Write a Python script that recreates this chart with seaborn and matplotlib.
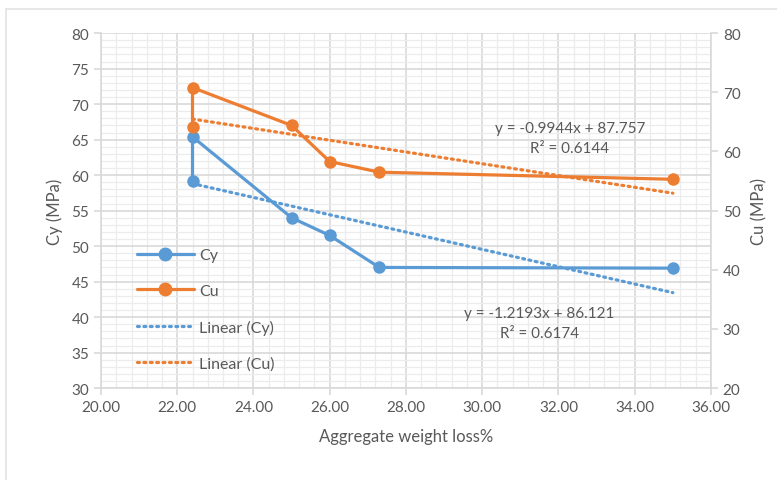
import numpy as np
import pandas as pd
import matplotlib
matplotlib.use("Agg")
import matplotlib.pyplot as plt
from matplotlib.lines import Line2D
from matplotlib.ticker import MultipleLocator, FormatStrFormatter
import seaborn as sns

# data
weight_loss = [22.4, 22.4, 25.0, 26.0, 27.3, 35.0]
cy = [59.2, 65.4, 54.0, 51.5, 47.0, 46.9]
cu = [64.2, 70.8, 64.4, 58.3, 56.5, 55.3]

# trendline coefficients as shown on the chart
cy_slope, cy_icpt, cy_r2 = -1.2193, 86.121, 0.6174
cu_slope, cu_icpt, cu_r2 = -0.9944, 87.757, 0.6144

BLUE = "#5B9BD5"
ORANGE = "#ED7D31"
TXT = "#595959"
GRID = "#D9D9D9"

sns.set_theme(style="white")
plt.rcParams["font.family"] = ["Lato", "DejaVu Sans"]

fig = plt.figure(figsize=(7.77, 4.81), dpi=100)
ax = fig.add_axes([0.13, 0.191, 0.785, 0.738])
ax2 = ax.twinx()

df = pd.DataFrame({"x": weight_loss, "cy": cy, "cu": cu})
x_fit = np.array([min(weight_loss), max(weight_loss)])
dots = (0, (0.6, 1.4))

# Cy on left axis
sns.lineplot(data=df, x="x", y="cy", sort=False, estimator=None, ax=ax,
             color=BLUE, marker="o", markersize=9, markeredgewidth=0,
             linewidth=2.3, zorder=4)
sns.lineplot(x=x_fit, y=cy_slope * x_fit + cy_icpt, ax=ax, color=BLUE,
             linewidth=2.3, linestyle=dots, dash_capstyle="round", zorder=3)

# Cu on right axis
sns.lineplot(data=df, x="x", y="cu", sort=False, estimator=None, ax=ax2,
             color=ORANGE, marker="o", markersize=9, markeredgewidth=0,
             linewidth=2.3, zorder=4)
sns.lineplot(x=x_fit, y=cu_slope * x_fit + cu_icpt, ax=ax2, color=ORANGE,
             linewidth=2.3, linestyle=dots, dash_capstyle="round", zorder=3)

ax.set_xlim(20, 36)
ax.set_ylim(30, 80)
ax2.set_ylim(20, 80)

ax.xaxis.set_major_locator(MultipleLocator(2))
ax.xaxis.set_minor_locator(MultipleLocator(0.4))
ax.xaxis.set_major_formatter(FormatStrFormatter("%.2f"))
ax.yaxis.set_major_locator(MultipleLocator(5))
ax.yaxis.set_minor_locator(MultipleLocator(1))
ax2.yaxis.set_major_locator(MultipleLocator(10))

ax.grid(which="major", color=GRID, linewidth=1.2)
ax.grid(which="minor", color="#ECECEC", linewidth=0.9)
ax.set_axisbelow(True)
ax2.grid(False)

for a in (ax, ax2):
    for s in a.spines.values():
        s.set_visible(False)
    a.tick_params(colors=TXT, labelsize=11, length=5, width=1.2,
                  color=GRID, which="major")
    a.tick_params(which="minor", length=0)
ax.spines["left"].set_visible(True)
ax.spines["bottom"].set_visible(True)
ax2.spines["right"].set_visible(True)
for s in (ax.spines["left"], ax.spines["bottom"], ax2.spines["right"]):
    s.set_color(GRID)
    s.set_linewidth(1.2)
ax.tick_params(axis="both", direction="out", left=True, bottom=True)
ax2.tick_params(axis="y", direction="out", right=True)

ax.set_xlabel("Aggregate weight loss%", color=TXT, fontsize=12, labelpad=10)
ax.set_ylabel("Cy (MPa)", color=TXT, fontsize=12, labelpad=6)
ax2.set_ylabel("Cu (MPa)", color=TXT, fontsize=12, labelpad=8)

ax.text(32.3, 65.2, f"y = {cu_slope}x + {cu_icpt}\nR² = {cu_r2}",
        ha="center", va="center", color=TXT, fontsize=11, linespacing=1.5)
ax.text(31.5, 39.2, f"y = {cy_slope}x + {cy_icpt}\nR² = {cy_r2}",
        ha="center", va="center", color=TXT, fontsize=11, linespacing=1.5)

handles = [
    Line2D([], [], color=BLUE, marker="o", markersize=9, linewidth=2.3),
    Line2D([], [], color=ORANGE, marker="o", markersize=9, linewidth=2.3),
    Line2D([], [], color=BLUE, linewidth=2.3, linestyle=dots,
           dash_capstyle="round"),
    Line2D([], [], color=ORANGE, linewidth=2.3, linestyle=dots,
           dash_capstyle="round"),
]
labels = ["Cy", "Cu", "Linear (Cy)", "Linear (Cu)"]
ax2.legend(handles, labels, loc="upper left", bbox_to_anchor=(0.035, 0.435),
           frameon=False, fontsize=11.5, labelcolor=TXT, handlelength=3.6,
           handletextpad=0.3, labelspacing=1.35)

# faint chart-area border (top and left edges visible in the original)
fig.add_artist(Line2D([0.0077, 1.0], [0.979, 0.979], color="#E3E3E3",
                      linewidth=1.2, transform=fig.transFigure))
fig.add_artist(Line2D([0.0077, 0.0077], [0.0, 0.979], color="#E3E3E3",
                      linewidth=1.2, transform=fig.transFigure))

fig.savefig("out.png", dpi=100)
